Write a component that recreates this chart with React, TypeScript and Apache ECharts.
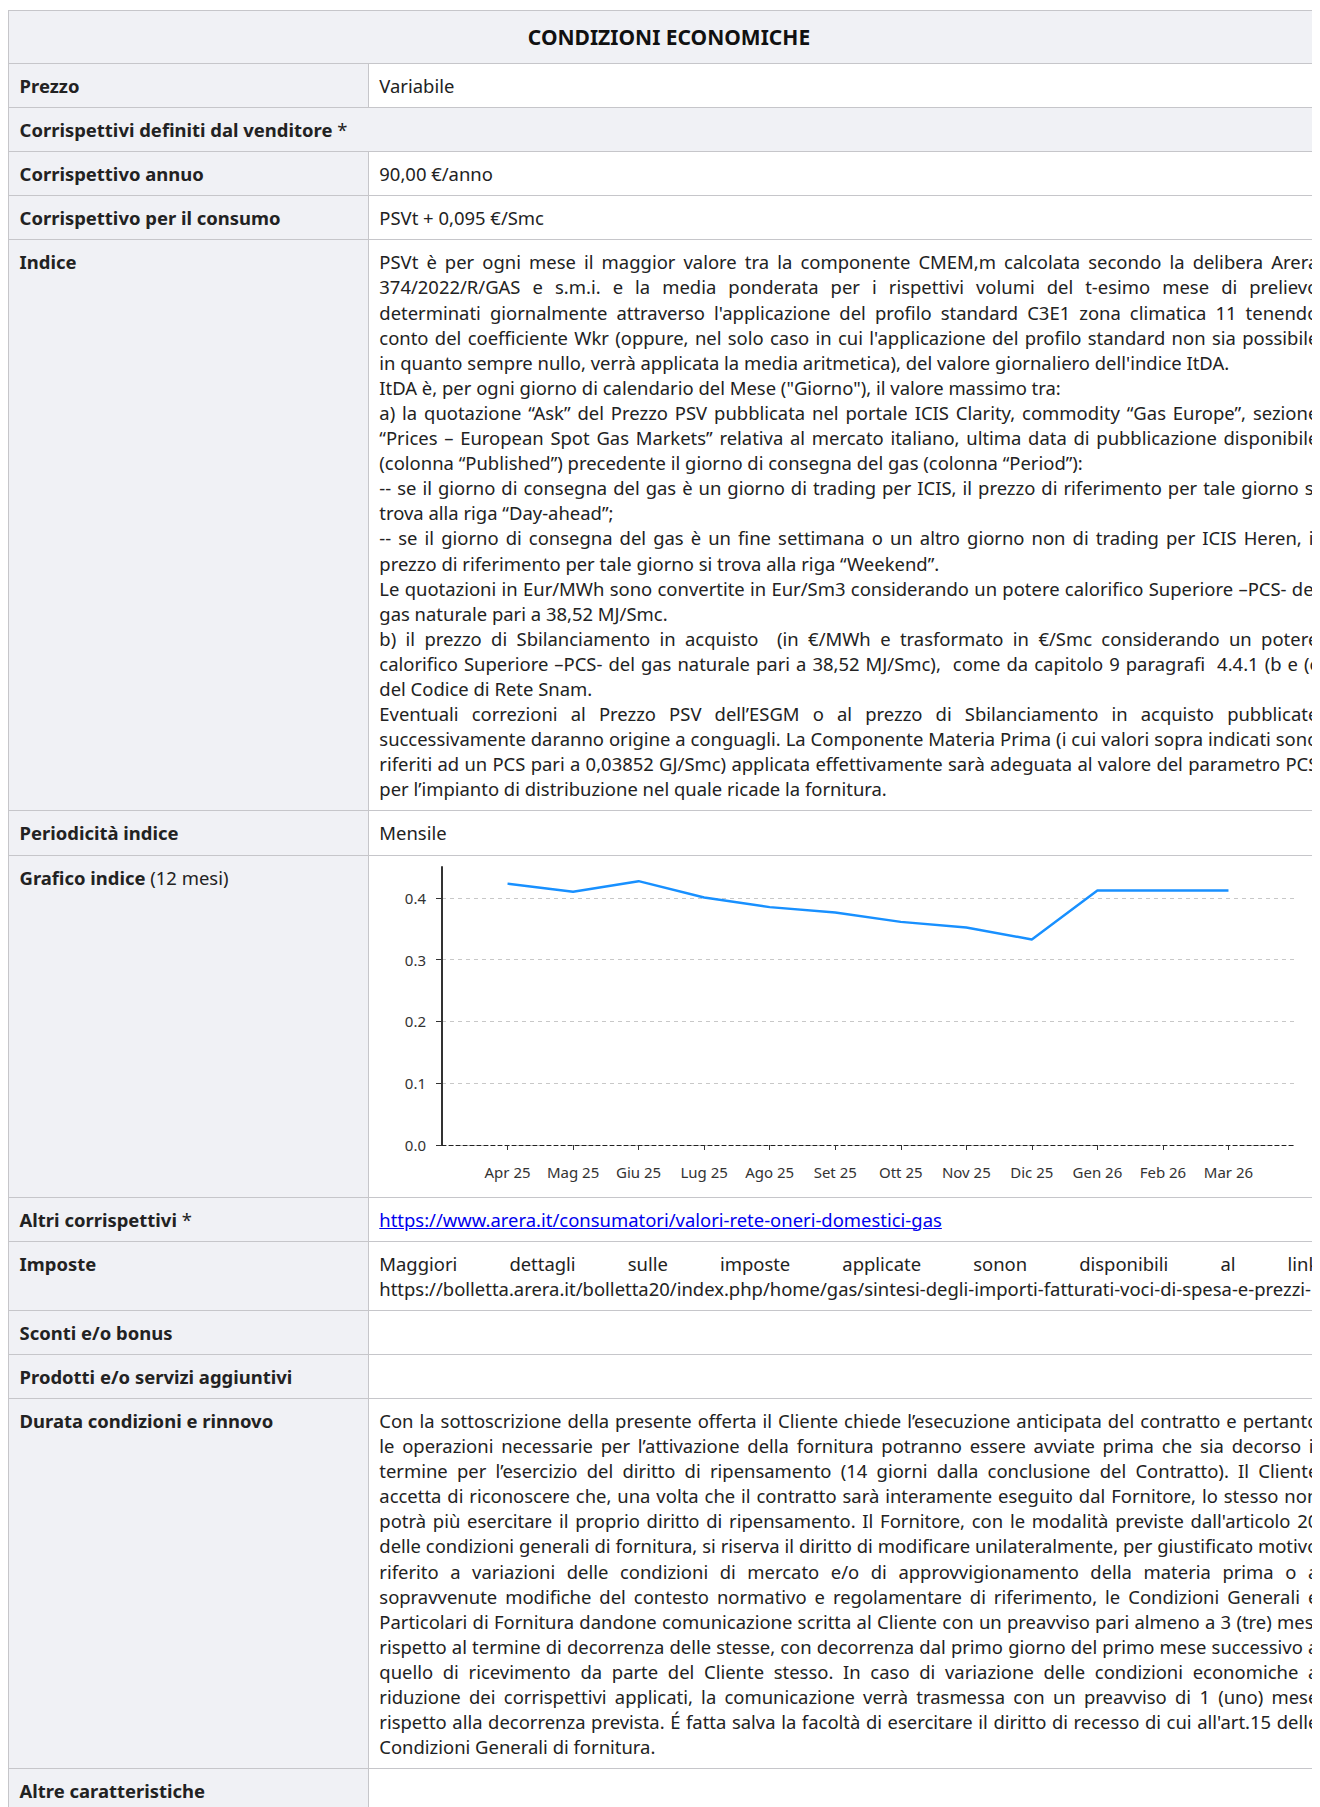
import React, { useEffect, useRef } from "react";
import * as echarts from "echarts";

const months = ["Apr 25", "Mag 25", "Giu 25", "Lug 25", "Ago 25", "Set 25", "Ott 25", "Nov 25", "Dic 25", "Gen 26", "Feb 26", "Mar 26"];
const psvValues = [0.423, 0.41, 0.427, 0.4006, 0.385, 0.3763, 0.3612, 0.352, 0.3327, 0.412, 0.412, 0.412];
const yTicks = [0, 0.1, 0.2, 0.3, 0.4];
const yMax = 0.45;

const FONT = "'Noto Sans', 'Open Sans', sans-serif";

if (typeof document !== "undefined") {
  document.documentElement.style.overflow = "hidden";
  document.body.style.overflow = "hidden";
}

// Text lines as they wrap in the reference; "J" = justified line, "L" = last line of a paragraph
const indiceLines: [string, string][] = [
  ["J", "PSVt è per ogni mese il maggior valore tra la componente CMEM,m calcolata secondo la delibera Arera"],
  ["J", "374/2022/R/GAS e s.m.i. e la media ponderata per i rispettivi volumi del t-esimo mese di prelievo"],
  ["J", "determinati giornalmente attraverso l'applicazione del profilo standard C3E1 zona climatica 11 tenendo"],
  ["J", "conto del coefficiente Wkr (oppure, nel solo caso in cui l'applicazione del profilo standard non sia possibile"],
  ["L", "in quanto sempre nullo, verrà applicata la media aritmetica), del valore giornaliero dell'indice ItDA."],
  ["L", "ItDA è, per ogni giorno di calendario del Mese (\"Giorno\"), il valore massimo tra:"],
  ["J", "a) la quotazione “Ask” del Prezzo PSV pubblicata nel portale ICIS Clarity, commodity “Gas Europe”, sezione"],
  ["J", "“Prices – European Spot Gas Markets” relativa al mercato italiano, ultima data di pubblicazione disponibile"],
  ["L", "(colonna “Published”) precedente il giorno di consegna del gas (colonna “Period”):"],
  ["J", "-- se il giorno di consegna del gas è un giorno di trading per ICIS, il prezzo di riferimento per tale giorno si"],
  ["L", "trova alla riga “Day-ahead”;"],
  ["J", "-- se il giorno di consegna del gas è un fine settimana o un altro giorno non di trading per ICIS Heren, il"],
  ["L", "prezzo di riferimento per tale giorno si trova alla riga “Weekend”."],
  ["J", "Le quotazioni in Eur/MWh sono convertite in Eur/Sm3 considerando un potere calorifico Superiore –PCS- del"],
  ["L", "gas naturale pari a 38,52 MJ/Smc."],
  ["J", "b) il prezzo di Sbilanciamento in acquisto \u00a0(in €/MWh e trasformato in €/Smc considerando un potere"],
  ["J", "calorifico Superiore –PCS- del gas naturale pari a 38,52 MJ/Smc), \u00a0come da capitolo 9 paragrafi \u00a04.4.1 (b e (c"],
  ["L", "del Codice di Rete Snam."],
  ["J", "Eventuali correzioni al Prezzo PSV dell’ESGM o al prezzo di Sbilanciamento in acquisto pubblicate"],
  ["J", "successivamente daranno origine a conguagli. La Componente Materia Prima (i cui valori sopra indicati sono"],
  ["J", "riferiti ad un PCS pari a 0,03852 GJ/Smc) applicata effettivamente sarà adeguata al valore del parametro PCS"],
  ["L", "per l’impianto di distribuzione nel quale ricade la fornitura."],
];

const durataLines: [string, string][] = [
  ["J", "Con la sottoscrizione della presente offerta il Cliente chiede l’esecuzione anticipata del contratto e pertanto"],
  ["J", "le operazioni necessarie per l’attivazione della fornitura potranno essere avviate prima che sia decorso il"],
  ["J", "termine per l’esercizio del diritto di ripensamento (14 giorni dalla conclusione del Contratto). Il Cliente"],
  ["J", "accetta di riconoscere che, una volta che il contratto sarà interamente eseguito dal Fornitore, lo stesso non"],
  ["J", "potrà più esercitare il proprio diritto di ripensamento. Il Fornitore, con le modalità previste dall'articolo 20"],
  ["J", "delle condizioni generali di fornitura, si riserva il diritto di modificare unilateralmente, per giustificato motivo"],
  ["J", "riferito a variazioni delle condizioni di mercato e/o di approvvigionamento della materia prima o a"],
  ["J", "sopravvenute modifiche del contesto normativo e regolamentare di riferimento, le Condizioni Generali e"],
  ["J", "Particolari di Fornitura dandone comunicazione scritta al Cliente con un preavviso pari almeno a 3 (tre) mesi"],
  ["J", "rispetto al termine di decorrenza delle stesse, con decorrenza dal primo giorno del primo mese successivo a"],
  ["J", "quello di ricevimento da parte del Cliente stesso. In caso di variazione delle condizioni economiche a"],
  ["J", "riduzione dei corrispettivi applicati, la comunicazione verrà trasmessa con un preavviso di 1 (uno) mese"],
  ["J", "rispetto alla decorrenza prevista. É fatta salva la facoltà di esercitare il diritto di recesso di cui all'art.15 delle"],
  ["L", "Condizioni Generali di fornitura."],
];

const imposteLines: [string, string][] = [
  ["J", "Maggiori dettagli sulle imposte applicate sonon disponibili al link"],
  ["L", "https://bolletta.arera.it/bolletta20/index.php/home/gas/sintesi-degli-importi-fatturati-voci-di-spesa-e-prezzi-"],
];

function IndexChart() {
  const ref = useRef<HTMLDivElement>(null);
  useEffect(() => {
    if (!ref.current) return;
    const chart = echarts.init(ref.current, undefined, { renderer: "svg" });
    const cats = ["", ...months, ""];
    const data = [null, ...psvValues, null];
    chart.setOption({
      animation: false,
      textStyle: { fontFamily: FONT },
      grid: { left: 63, right: 24, top: 2, bottom: 43, containLabel: false, outerBoundsMode: "none" },
      xAxis: {
        type: "category",
        data: cats,
        boundaryGap: false,
        axisLine: { show: true, lineStyle: { color: "#222", width: 1, type: [4, 3] } },
        axisTick: {
          show: true,
          length: 5,
          lineStyle: { color: "#333", width: 1 },
          interval: (_i: number, v: string) => v !== "",
        },
        axisLabel: { interval: 0, margin: 19, color: "#333", fontSize: 15, fontFamily: FONT },
        splitLine: { show: false },
      },
      yAxis: {
        type: "value",
        min: 0,
        max: yMax,
        interval: 0.1,
        axisLine: { show: true, lineStyle: { color: "#333", width: 2 } },
        axisTick: { show: true, length: 6, customValues: yTicks, lineStyle: { color: "#333", width: 1 } },
        axisLabel: {
          customValues: yTicks,
          margin: 16,
          color: "#333",
          fontSize: 15,
          fontFamily: FONT,
          formatter: (v: number) => v.toFixed(1),
        },
        splitLine: { show: true, lineStyle: { color: "#c8c8c8", width: 1, type: [4, 4] } },
      },
      series: [
        {
          type: "line",
          data,
          showSymbol: false,
          symbol: "none",
          lineStyle: { color: "#1890ff", width: 2.4 },
          itemStyle: { color: "#1890ff" },
          emphasis: { disabled: true },
        },
      ],
    });
    return () => chart.dispose();
  }, []);
  return <div ref={ref} style={{ width: 939, height: 323, display: "block" }} />;
}

const B = "1px solid #c6c6ca";
const GRAY = "#f0f1f5";

const rowStyle: React.CSSProperties = { display: "flex", borderBottom: B };
const leftStyle: React.CSSProperties = {
  boxSizing: "border-box",
  flex: "0 0 360px",
  width: 360,
  padding: "9px 10.6px",
  background: GRAY,
  fontWeight: 700,
  borderRight: B,
};
const rightStyle: React.CSSProperties = {
  boxSizing: "border-box",
  flex: "0 0 961px",
  width: 961,
  padding: "9px 10.7px 9px 10.3px",
  background: "#fff",
  borderRight: B,
  textAlign: "justify",
};
const norm: React.CSSProperties = { fontWeight: 400 };

function Lines({ lines }: { lines: [string, string][] }) {
  return (
    <>
      {lines.map(([k, t], i) => {
        const j = k === "J";
        return (
          <div
            key={i}
            style={{
              whiteSpace: "nowrap",
              textAlign: j ? "justify" : "left",
              textAlignLast: j ? "justify" : "left",
              wordSpacing: j ? "-4px" : undefined,
            }}
          >
            {t}
          </div>
        );
      })}
    </>
  );
}

function Row({ label, children }: { label: React.ReactNode; children?: React.ReactNode }) {
  return (
    <div style={rowStyle}>
      <div style={leftStyle}>{label}</div>
      <div style={rightStyle}>{children ?? "\u00a0"}</div>
    </div>
  );
}

export default function App() {
  return (
    <div style={{ width: 1312, height: 1799, overflow: "hidden" }}>
      <div
        style={{
          boxSizing: "border-box",
          width: 1322,
          marginTop: 2,
          borderTop: B,
          borderLeft: B,
          fontFamily: FONT,
          fontSize: "18.44px",
          lineHeight: "25.1px",
          color: "#222",
        }}
      >
        <div
          style={{
            borderBottom: B,
            borderRight: B,
            background: GRAY,
            fontWeight: 700,
            textAlign: "center",
            fontSize: "21px",
            lineHeight: "30px",
            padding: "11px 10.5px",
            color: "#111",
          }}
        >
          CONDIZIONI ECONOMICHE
        </div>
        <Row label="Prezzo">Variabile</Row>
        <div style={{ borderBottom: B, borderRight: B, background: GRAY, padding: "9px 10.6px", fontWeight: 700 }}>
          Corrispettivi definiti dal venditore <span style={norm}>*</span>
        </div>
        <Row label="Corrispettivo annuo">90,00 €/anno</Row>
        <Row label="Corrispettivo per il consumo">PSVt + 0,095 €/Smc</Row>
        <Row label="Indice">
          <Lines lines={indiceLines} />
        </Row>
        <Row label="Periodicità indice">Mensile</Row>
        <Row
          label={
            <>
              Grafico indice <span style={norm}>(12 mesi)</span>
            </>
          }
        >
          <IndexChart />
        </Row>
        <Row
          label={
            <>
              Altri corrispettivi <span style={norm}>*</span>
            </>
          }
        >
          <a href="#" style={{ color: "#0000ee", textDecoration: "underline" }}>
            https://www.arera.it/consumatori/valori-rete-oneri-domestici-gas
          </a>
        </Row>
        <Row label="Imposte">
          <Lines lines={imposteLines} />
        </Row>
        <Row label="Sconti e/o bonus" />
        <Row label="Prodotti e/o servizi aggiuntivi" />
        <Row label="Durata condizioni e rinnovo">
          <Lines lines={durataLines} />
        </Row>
        <Row label="Altre caratteristiche" />
      </div>
    </div>
  );
}
